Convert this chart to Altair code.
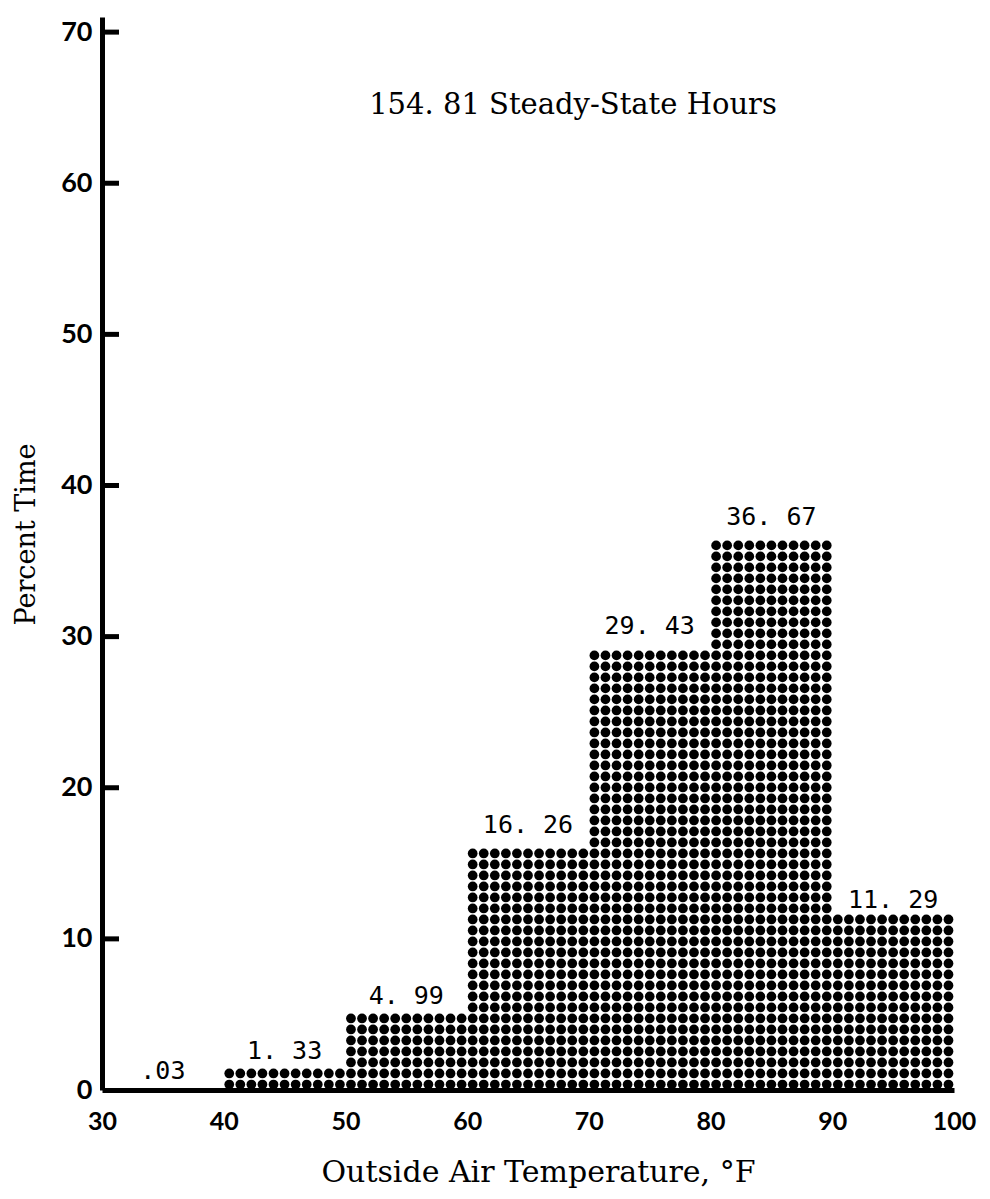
import altair as alt
import pandas as pd

# ---- data ----
bin_lo = [30, 40, 50, 60, 70, 80, 90]
bin_hi = [40, 50, 60, 70, 80, 90, 100]
percent = [0.03, 1.33, 4.99, 16.26, 29.43, 36.67, 11.29]
value_labels = [".03", "1. 33", "4. 99", "16. 26", "29. 43", "36. 67", "11. 29"]
x_ticks = [30, 40, 50, 60, 70, 80, 90, 100]
y_ticks = [0, 10, 20, 30, 40, 50, 60, 70]
note = ["154. 81 Steady-State Hours"]

df = pd.DataFrame({"lo": bin_lo, "hi": bin_hi, "value": percent, "label": value_labels})
ticks_df = pd.DataFrame({"t": y_ticks[1:]})
note_df = pd.DataFrame({"note": note})

# dot-screen texture pitch (style)
DX = 10 / 11.0      # deg F between dot columns
DY = 0.728          # percent between dot rows

xscale = alt.Scale(domain=[30, 100], nice=False, zero=False)
yscale = alt.Scale(domain=[0, 71], nice=False)

x_axis = alt.Axis(
    values=x_ticks, ticks=False, grid=False, domain=True, domainWidth=5, domainColor="black",
    labelFont="Lato", labelFontWeight="bold", labelFontSize=25, labelColor="black",
    labelPadding=19, labelFlush=False,
    title="Outside Air Temperature, °F", titleFont="DejaVu Serif", titleFontSize=30,
    titleFontWeight="normal", titleColor="black", titleX=436, titleY=82,
    titleBaseline="middle",
)
y_axis = alt.Axis(
    values=y_ticks, ticks=False, grid=False, domain=True, domainWidth=5, domainColor="black",
    labelFont="Lato", labelFontWeight="bold", labelFontSize=27, labelColor="black",
    labelPadding=10,
    title="Percent Time", titleFont="DejaVu Serif", titleFontSize=27,
    titleFontWeight="normal", titleColor="black", titleX=-76, titleY=517,
    titleBaseline="middle",
)

# axis carrier layer: draws the axes from the bins
axes_layer = (
    alt.Chart(df)
    .mark_point(opacity=0)
    .encode(
        x=alt.X("lo:Q", scale=xscale, axis=x_axis),
        y=alt.Y("value:Q", scale=yscale, axis=y_axis),
    )
)

dots = (
    alt.Chart(df)
    .transform_calculate(
        xs=f"sequence(datum.lo + {DX/2}, datum.hi, {DX})",
        ys=f"sequence({DY/2}, datum.value, {DY})",
    )
    .transform_flatten(["xs"])
    .transform_flatten(["ys"])
    .mark_circle(size=95, color="black", opacity=1)
    .encode(
        x=alt.X("xs:Q", scale=xscale, axis=x_axis),
        y=alt.Y("ys:Q", scale=yscale, axis=y_axis),
    )
)

labels = (
    alt.Chart(df)
    .transform_calculate(mid="(datum.lo + datum.hi) / 2")
    .mark_text(font="DejaVu Sans Mono", fontSize=25, color="black", baseline="bottom", dy=-6)
    .encode(
        x=alt.X("mid:Q", scale=xscale, axis=x_axis),
        y=alt.Y("value:Q", scale=yscale, axis=y_axis),
        text="label:N",
    )
)

yticks = (
    alt.Chart(ticks_df)
    .mark_rule(color="black", strokeWidth=5)
    .encode(
        y=alt.Y("t:Q", scale=yscale, axis=y_axis),
        x=alt.value(0),
        x2=alt.value(17),
    )
)

annot = (
    alt.Chart(note_df)
    .mark_text(font="DejaVu Serif", fontSize=29, color="black", align="center", baseline="middle")
    .encode(text="note:N", x=alt.value(471), y=alt.value(88))
)

chart = (
    alt.layer(axes_layer, dots, yticks, labels, annot)
    .properties(
        width=852, height=1073,
        autosize=alt.AutoSizeParams(type="none"),
        padding={"left": 94, "top": 9, "right": 26, "bottom": 100},
        background="white",
    )
    .configure_view(stroke=None)
)

chart.save("out.html", embed_options={"renderer": "svg", "actions": False})
